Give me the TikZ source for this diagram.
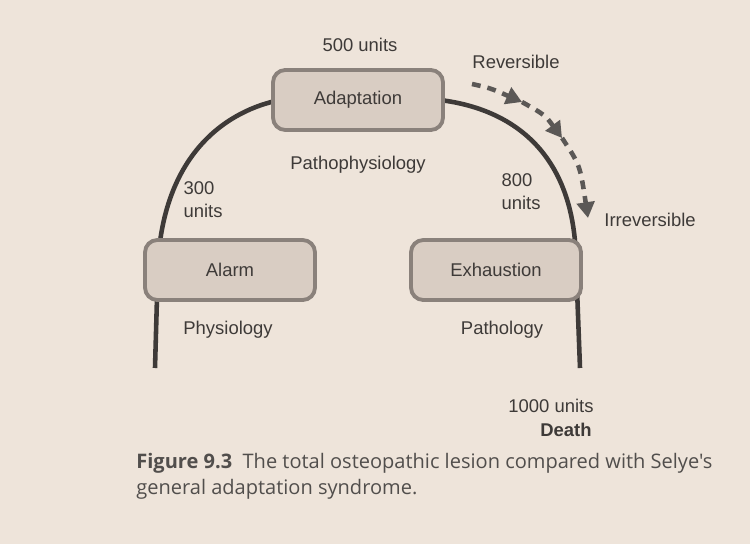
\documentclass[tikz,border=0pt]{standalone}
\usepackage{fontspec}
\setmainfont{Liberation Sans}
\newfontfamily\capfont{Open Sans}
\usetikzlibrary{arrows.meta}
\definecolor{paper}{HTML}{EEE4DA}
\definecolor{boxfill}{HTML}{D9CDC3}
\definecolor{boxline}{HTML}{8A817B}
\definecolor{ink}{HTML}{3E3A38}
\tikzset{
  stagebox/.style={draw=boxline, line width=2.2pt, fill=boxfill, rounded corners=7pt,
    minimum width=3.4cm, minimum height=1.2cm, font=\fontsize{10.5}{13}\selectfont, text=ink},
  lbl/.style={font=\fontsize{10.5}{13}\selectfont, text=ink, align=left},
  arch/.style={draw=ink, line width=2.6pt},
  flow/.style={draw=ink!85, line width=2.6pt, dash pattern=on 5pt off 4pt,
    -{Triangle[length=9pt,width=10pt]}},
}
\begin{document}
\begin{tikzpicture}[x=0.02cm,y=-0.02cm]
\fill[paper] (0,0) rectangle (750,544);
\useasboundingbox (0,0) rectangle (750,544);
% arch
\coordinate (ll) at (155,368);
\coordinate (rr) at (580,368);
\draw[arch] (ll) -- (158,262) .. controls (165,150) and (230,110) .. (280,100);
\draw[arch] (440,100) .. controls (520,110) and (575,160) .. (576,262) -- (rr);
% boxes
\node[stagebox] (adapt) at (358,100) {Adaptation};
\node[stagebox] (alarm) at (230,270) {Alarm};
\node[stagebox] (exh) at (496,270) {Exhaustion};
% labels
\node[lbl] (u500) at (360,45) {500 units};
\node[lbl] (patho) at (358,165) {Pathophysiology};
\node[lbl] (u300) at (203,200) {300\\units};
\node[lbl] (u800) at (521,192) {800\\units};
\node[lbl] (phys) at (228,330) {Physiology};
\node[lbl] (path) at (502,330) {Pathology};
\node[lbl] (rev) at (516,62) {Reversible};
\node[lbl] (irr) at (650,220) {Irreversible};
\node[lbl] (u1000) at (551,406) {1000 units};
\node[lbl, font=\fontsize{10.5}{13}\selectfont\bfseries] (death) at (566,430) {Death};
% dashed arrows
\coordinate (d0) at (472,84);
\coordinate (d1) at (522,102);
\coordinate (d2) at (562,138);
\coordinate (d3) at (588,218);
\draw[flow] (d0) .. controls (490,88) .. (d1);
\draw[flow] (d1) .. controls (545,115) .. (d2);
\draw[flow] (d2) .. controls (580,165) .. (d3);
% caption
\node[anchor=north west, align=left, font=\capfont\fontsize{11.4}{14.5}\selectfont, text=ink!90, inner sep=0pt] (cap) at (136,453)
  {\textbf{Figure 9.3}\ \ The total osteopathic lesion compared with Selye's\\general adaptation syndrome.};
\end{tikzpicture}
\end{document}
